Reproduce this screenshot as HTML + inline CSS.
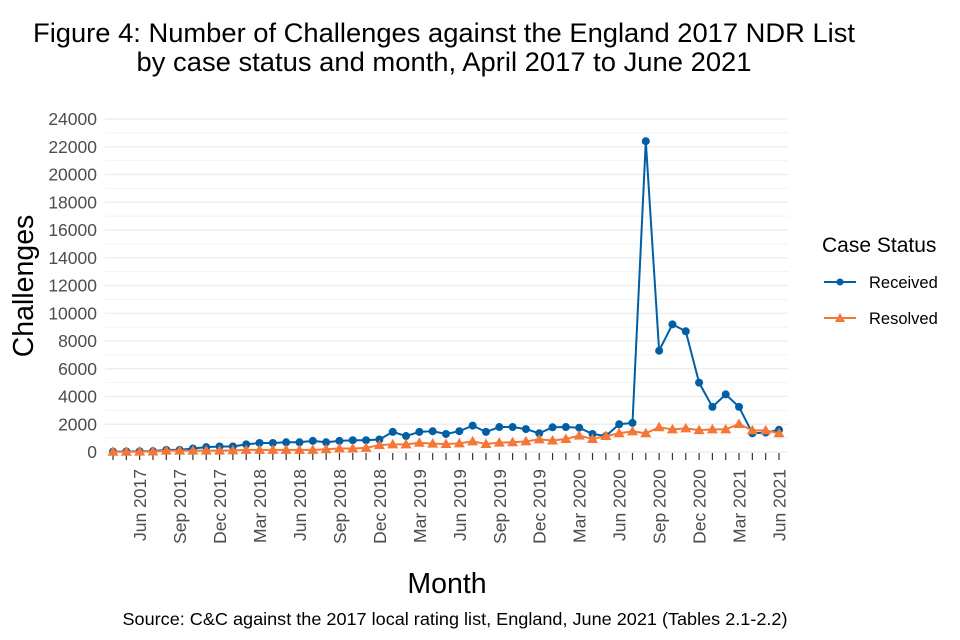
<!DOCTYPE html>
<html><head><meta charset="utf-8"><style>
body{margin:0;background:#fff;}
svg{display:block;font-family:"Liberation Sans",sans-serif;}
</style></head><body>
<svg id="chart" width="960" height="640" xmlns="http://www.w3.org/2000/svg">
<text x="444" y="42" text-anchor="middle" font-size="27" textLength="822" lengthAdjust="spacingAndGlyphs" fill="#000">Figure 4: Number of Challenges against the England 2017 NDR List</text>
<text x="444" y="71" text-anchor="middle" font-size="27" textLength="615" lengthAdjust="spacingAndGlyphs" fill="#000">by case status and month, April 2017 to June 2021</text>
<g id="grid"></g><g id="axes"></g><g id="series"></g>
<text transform="translate(33,286) rotate(-90)" text-anchor="middle" font-size="28.5" fill="#000">Challenges</text>
<text x="447" y="593" text-anchor="middle" font-size="28.5" fill="#000">Month</text>
<text x="455" y="625" text-anchor="middle" font-size="17.5" textLength="665" lengthAdjust="spacingAndGlyphs" fill="#000">Source: C&amp;C against the 2017 local rating list, England, June 2021 (Tables 2.1-2.2)</text>
<g>
<text x="822" y="252" font-size="21" fill="#000">Case Status</text>
<g>
<line x1="824" y1="282" x2="856" y2="282" stroke="#005ea5" stroke-width="2"/><circle cx="840" cy="282" r="3.5" fill="#005ea5"/>
<text x="869" y="288" font-size="16.5" fill="#000">Received</text></g>
<g>
<line x1="824" y1="318" x2="856" y2="318" stroke="#f47738" stroke-width="2"/><polygon points="840,313 845,322 835,322" fill="#f47738"/>
<text x="869" y="324" font-size="16.5" fill="#000">Resolved</text></g>
</g>
</svg>
<script>
const monthLabels=["Jun 2017","Sep 2017","Dec 2017","Mar 2018","Jun 2018","Sep 2018","Dec 2018","Mar 2019","Jun 2019","Sep 2019","Dec 2019","Mar 2020","Jun 2020","Sep 2020","Dec 2020","Mar 2021","Jun 2021"];
const yTicks=[0,2000,4000,6000,8000,10000,12000,14000,16000,18000,20000,22000,24000];
const received=[30,40,50,60,150,150,250,350,400,400,550,650,650,700,700,800,700,800,850,850,900,1450,1150,1450,1500,1300,1500,1900,1450,1800,1800,1650,1350,1780,1800,1750,1300,1150,2000,2100,22400,7300,9200,8700,5000,3250,4150,3250,1350,1400,1600];
const resolved=[20,20,30,40,100,100,100,100,100,120,150,150,150,150,150,150,200,250,250,300,500,550,550,670,600,580,620,770,580,680,700,770,910,830,940,1180,940,1150,1350,1490,1350,1780,1630,1700,1580,1630,1630,2020,1560,1560,1350];
const NS="http://www.w3.org/2000/svg";
const x0=113,x1=779,y0=452,y1=119;
const xS=i=>x0+(x1-x0)*i/(received.length-1);
const yS=v=>y0-(y0-y1)*v/24000;
function mk(tag,attrs,parent){const e=document.createElementNS(NS,tag);for(const k in attrs)e.setAttribute(k,attrs[k]);parent.appendChild(e);return e;}
const grid=document.getElementById('grid'),axes=document.getElementById('axes'),ser=document.getElementById('series');
for(let v=1000;v<=24000;v+=2000){const l=mk('line',{x1:105,x2:788,y1:yS(v),y2:yS(v),stroke:'#f2f2f2','stroke-width':1},grid);

}
yTicks.forEach(v=>{const l=mk('line',{x1:105,x2:788,y1:yS(v),y2:yS(v),stroke:'#ebebeb','stroke-width':1.3},grid);


const t=mk('text',{x:97,y:yS(v)+6,'text-anchor':'end','font-size':17.5,fill:'#4d4d4d'},axes);t.textContent=v;

});
for(let i=0;i<received.length;i++){const l=mk('line',{x1:xS(i),x2:xS(i),y1:453,y2:460,stroke:'#333','stroke-width':1.2},axes);

}
monthLabels.forEach((m,k)=>{const i=2+3*k;const t=mk('text',{transform:`translate(${xS(i)+6.5},469) rotate(-90)`,'text-anchor':'end','font-size':17.5,fill:'#4d4d4d'},axes);t.textContent=m;

});
function drawSeries(data,color,shape,name){
const g=mk('g',{},ser);


const p=mk('polyline',{points:data.map((v,i)=>xS(i)+','+yS(v)).join(' '),fill:'none',stroke:color,'stroke-width':2,'stroke-linejoin':'round'},g);


data.forEach((v,i)=>{const x=xS(i),y=yS(v);let e;
if(shape==='circle')e=mk('circle',{cx:x,cy:y,r:4,fill:color},g);
else e=mk('polygon',{points:`${x},${y-5.5} ${x+5.5},${y+4} ${x-5.5},${y+4}`,fill:color},g);

});}
drawSeries(received,'#005ea5','circle','received');
drawSeries(resolved,'#f47738','triangle','resolved');
</script>
</body></html>
